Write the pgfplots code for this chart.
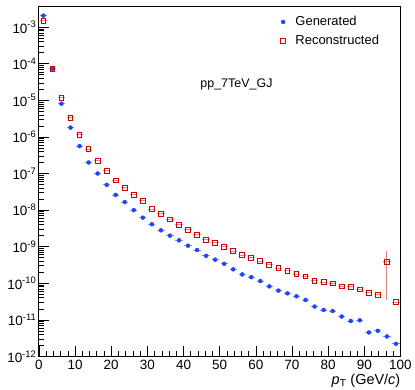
\documentclass[border=0pt]{standalone}
\usepackage{fontspec}
\setmainfont{Liberation Sans}
\usepackage{pgfplots}
\usepackage{pgfplotstable}
\pgfplotsset{compat=1.18}
\definecolor{genblue}{HTML}{1F45FC}
\definecolor{recred}{HTML}{D40000}
\pgfplotstableread{
x gen
1.25 2.07e-3
3.75 7.3e-5
6.25 8.1e-6
8.75 1.8e-6
11.25 5.6e-7
13.75 2.0e-7
16.25 1.0e-7
18.75 4.9e-8
21.25 2.6e-8
23.75 1.66e-8
26.25 1.0e-8
28.75 6.2e-9
31.25 4.1e-9
33.75 2.8e-9
36.25 2.0e-9
38.75 1.49e-9
41.25 1.06e-9
43.75 8.1e-10
46.25 5.6e-10
48.75 4.4e-10
51.25 3.4e-10
53.75 2.4e-10
56.25 1.74e-10
58.75 1.47e-10
61.25 1.15e-10
63.75 8.2e-11
66.25 6.3e-11
68.75 5.3e-11
71.25 4.4e-11
73.75 3.5e-11
76.25 2.3e-11
78.75 1.86e-11
81.25 1.74e-11
83.75 1.23e-11
86.25 9.3e-12
88.75 9.7e-12
91.25 4.5e-12
93.75 5.0e-12
96.25 3.5e-12
98.75 2.2e-12
}\gentable
\pgfplotstableread{
x rec ep em
1.25 1.51e-3 0 0
3.75 7.3e-5 0 0
6.25 1.16e-5 0 0
8.75 3.3e-6 0 0
11.25 1.15e-6 0 0
13.75 4.6e-7 0 0
16.25 2.2e-7 0 0
18.75 1.18e-7 0 0
21.25 6.4e-8 0 0
23.75 4.1e-8 0 0
26.25 2.6e-8 0 0
28.75 1.78e-8 0 0
31.25 1.06e-8 0 0
33.75 7.9e-9 0 0
36.25 5.5e-9 0 0
38.75 4.0e-9 0 0
41.25 2.9e-9 0 0
43.75 2.1e-9 0 0
46.25 1.55e-9 0 0
48.75 1.26e-9 0 0
51.25 1.0e-9 0 0
53.75 7.6e-10 0 0
56.25 5.9e-10 0 0
58.75 5.0e-10 0 0
61.25 4.0e-10 0 0
63.75 3.2e-10 0 0
66.25 2.6e-10 0 0
68.75 2.2e-10 0 0
71.25 1.77e-10 0 0
73.75 1.52e-10 0 0
76.25 1.17e-10 0 0
78.75 1.08e-10 0 0
81.25 9.8e-11 0 0
83.75 8.1e-11 0 0
86.25 7.9e-11 0 0
88.75 6.7e-11 0 0
91.25 5.5e-11 0 0
93.75 4.8e-11 0 0
96.25 3.9e-10 3.5e-10 3.55e-10
98.75 3.0e-11 0 0
}\rectable
\begin{document}
\begin{tikzpicture}
\begin{axis}[
  name=ax,
  scale only axis,
  width=362.7pt, height=351.5pt,
  ymode=log,
  xmin=0, xmax=100,
  ymin=1e-12, ymax=3.8e-3,
  axis line style={line width=0.8pt},
  tick align=inside,
  tick pos=left,
  major tick length=10pt,
  minor tick length=5pt,
  tick style={black, line width=0.6pt},
  xtick={0,10,...,100},
  minor x tick num=4,
  ytick={1e-12,1e-11,1e-10,1e-9,1e-8,1e-7,1e-6,1e-5,1e-4,1e-3},
  yticklabels={10\textsuperscript{-12},10\textsuperscript{-11},10\textsuperscript{-10},10\textsuperscript{-9},10\textsuperscript{-8},10\textsuperscript{-7},10\textsuperscript{-6},10\textsuperscript{-5},10\textsuperscript{-4},10\textsuperscript{-3}},
  /pgf/number format/assume math mode=true,
  tick label style={font=\fontsize{13.5}{15}\selectfont},
  yticklabel style={xshift=1pt},
  xticklabel style={yshift=0pt},
  xlabel={\textit{p}\textsubscript{T} (GeV/\textit{c})},
  xlabel style={font=\fontsize{14.5}{16}\selectfont, at={(axis description cs:1,0)}, anchor=base east, yshift=-28pt, inner sep=0pt},
  legend style={draw=none, fill=none, at={(axis description cs:0.66,0.982)}, anchor=north west, font=\fontsize{13}{15}\selectfont, row sep=4pt, column sep=8pt, legend cell align=left},
  clip=false,
]
\addplot[only marks, mark=*, mark size=2pt, color=genblue,
  error bars/.cd, x dir=both, x fixed=1, error bar style={genblue!60, line width=0.8pt}, error mark=none]
  table[x=x, y=gen] {\gentable};
\addlegendentry{Generated}
\addplot[only marks, mark=square, mark size=2.4pt, color=recred, mark options={line width=1pt},
  error bars/.cd, x dir=both, x fixed=1, y dir=both, y explicit, error bar style={recred!50, line width=1pt}, error mark=none]
  table[x=x, y=rec, y error plus=ep, y error minus=em] {\rectable};
\addlegendentry{Reconstructed}
\node[anchor=base, font=\fontsize{12.5}{14}\selectfont] at (axis description cs:0.5465,0.766) {pp\_7TeV\_GJ};
\coordinate (bl) at (rel axis cs:0,0);
\coordinate (tr) at (rel axis cs:1,1);
\end{axis}
\path ([xshift=-39pt,yshift=-33.5pt]bl) rectangle ([xshift=13.3pt,yshift=6pt]tr);
\end{tikzpicture}
\end{document}
